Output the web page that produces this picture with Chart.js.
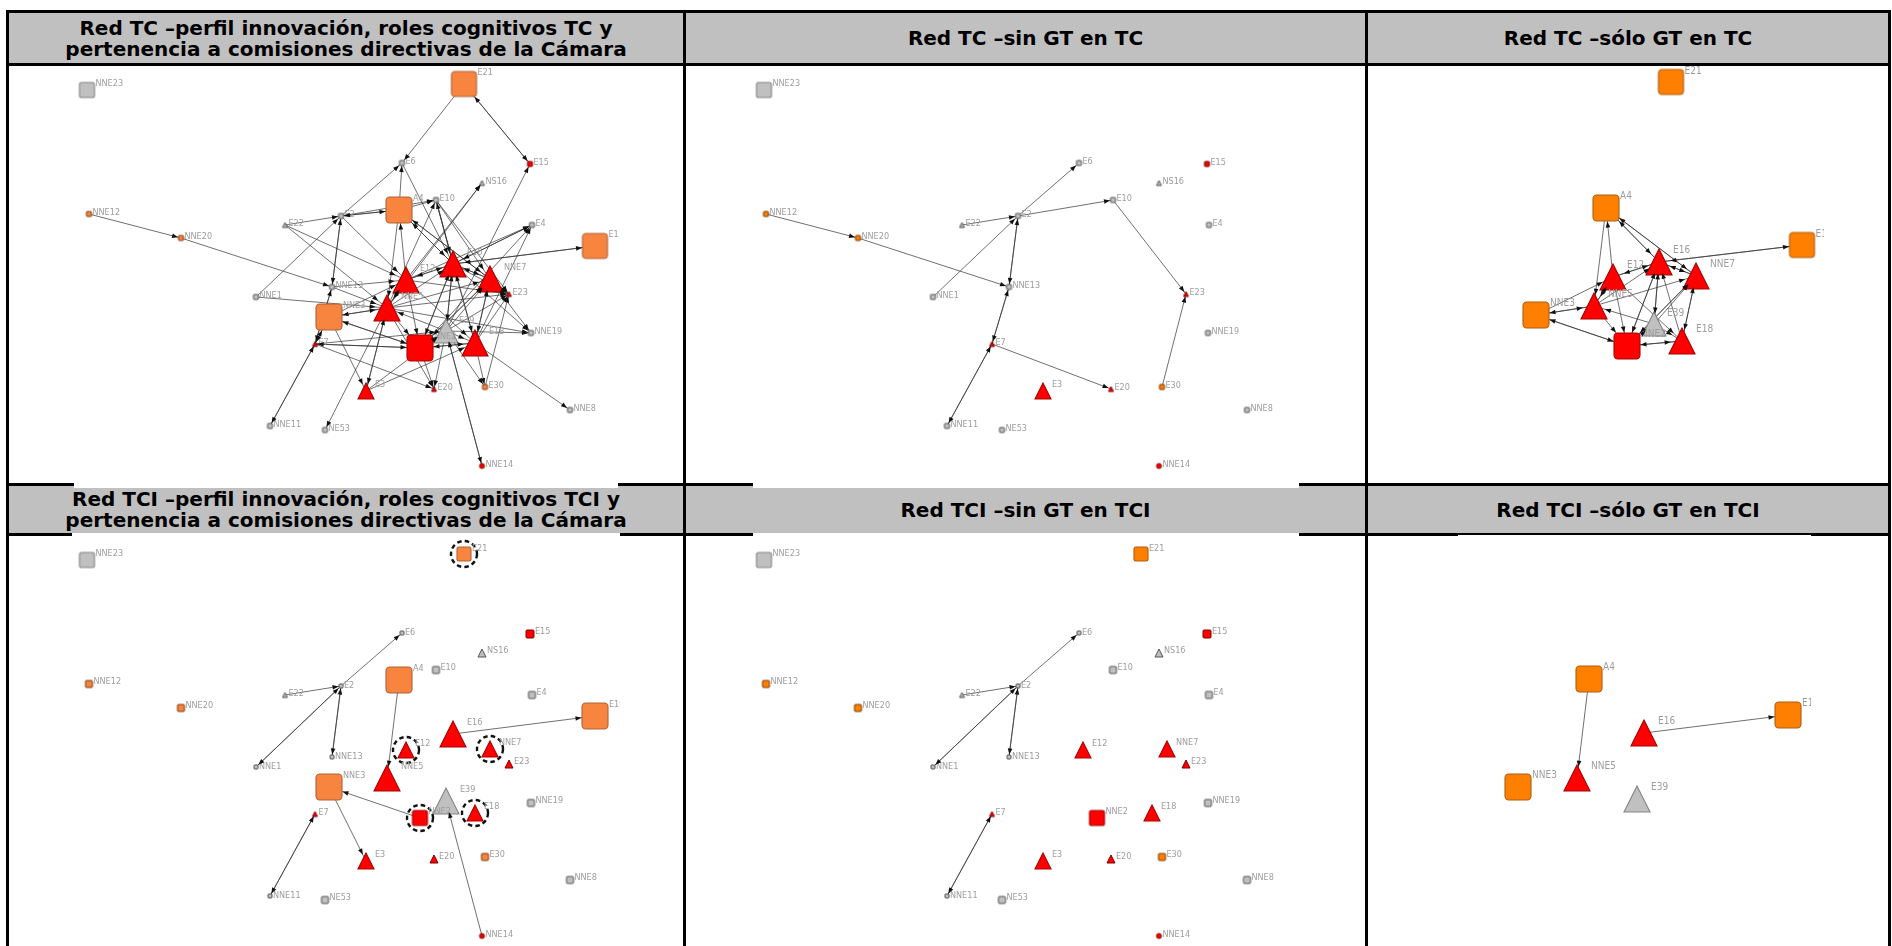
<!DOCTYPE html>
<html>
<head>
<meta charset="utf-8">
<script src="https://cdn.jsdelivr.net/npm/chart.js@4.4.0/dist/chart.umd.min.js"></script>
<style>
  body { margin: 0; width: 1892px; height: 946px; overflow: hidden; position: relative; background: #fff; }
  .bar { position: absolute; background: #000; z-index: 1; }
  .head { position: absolute; background: #c0c0c0; z-index: 0; display: flex; align-items: center; justify-content: center;
          box-sizing: border-box; padding-top: 1px;
          text-align: center; white-space: pre-line; font-family: "DejaVu Sans", Verdana, sans-serif; font-weight: bold;
          font-size: 20px; line-height: 21px; color: #000; }
  .pic { position: absolute; background: #fff; z-index: 2; overflow: hidden; }
  .pic canvas { display: block; }
</style>
</head>
<body>
<script>
// ---------------- data ----------------
const headerTitles = [
  'Red TC –perfil innovación, roles cognitivos TC y\npertenencia a comisiones directivas de la Cámara',
  'Red TC –sin GT en TC',
  'Red TC –sólo GT en TC',
  'Red TCI –perfil innovación, roles cognitivos TCI y\npertenencia a comisiones directivas de la Cámara',
  'Red TCI –sin GT en TCI',
  'Red TCI –sólo GT en TCI'
];

// full network layout (panel-relative px)
const nodeNames   = ['NNE23','E21','E6','E15','NS16','A4','E10','E2','NNE12','E22','E4','NNE20','E19','E16','E12','NNE7','NNE13','E23','NNE1','NNE5','NNE3','E39','E18','NNE19','E7','NNE2','E3','E20','E30','NNE8','NNE11','NE53','NNE14'];
const nodeX       = [78, 455, 393, 521, 473, 390, 427, 332, 80, 276, 523, 172, 586, 444, 397, 481, 323, 500, 247, 378, 320, 437, 466, 522, 306, 411, 357, 425, 476, 561, 261, 316, 473];
const nodeY       = [23, 17, 96, 97, 116, 143, 133, 149, 147, 158, 158, 171, 179, 197, 213, 212, 220, 227, 230, 241, 250, 264, 276, 266, 277, 281, 324, 322, 320, 343, 359, 363, 399];
const nodeShape   = ['sq','sq','sq','sq','tri','sq','sq','sq','sq','tri','sq','sq','sq','tri','tri','tri','sq','tri','sq','tri','sq','tri','tri','sq','tri','sq','tri','tri','sq','sq','sq','sq','dot'];
const nodeProfile = ['g','o','g','r','g','o','g','g','o','g','g','o','o','r','r','r','g','r','g','r','o','g','r','g','r','r','r','r','o','g','g','g','r'];
const sizeTC      = [15, 25, 5, 5, 5, 26, 5, 5, 5, 5, 5, 5, 25, 26, 26, 26, 5, 5, 5, 26, 26, 24, 26, 5, 5, 26, 16, 5, 5, 5, 5, 5, 5];
const sizeTCI     = [15, 14, 4, 8, 8, 26, 7, 4, 7, 5, 7, 7, 26, 26, 16, 16, 4, 8, 4, 26, 26, 26, 16, 7, 5, 15, 16, 8, 7, 7, 4, 7, 5];

// GT sub-network layouts
const gtTcNames  = ['E21','A4','E19','E16','NNE7','E12','NNE5','NNE3','E39','NNE2','E18'];
const gtTcX      = [303, 238, 434, 291, 328, 245, 226, 168, 286, 259, 314];
const gtTcY      = [15, 141, 178, 195, 209, 210, 239, 248, 257, 279, 274];
const gtTciNames = ['A4','E19','E16','NNE5','NNE3','E39'];
const gtTciX     = [221, 420, 276, 209, 150, 269];
const gtTciY     = [142, 178, 196, 241, 250, 262];

// directed ties [from, to]
const edgesTcRest = [
  ['NNE12','NNE20'], ['NNE20','NNE13'], ['E22','E2'], ['E2','E6'], ['E2','E10'], ['NNE1','E2'],
  ['E2','NNE13'], ['NNE13','E2'], ['NNE13','E7'], ['E7','NNE13'], ['E7','NNE11'], ['NNE11','E7'],
  ['E7','E20'], ['E10','E23'], ['E30','E23']
];
const edgesTcGt = [
  ['A4','E16'], ['E16','A4'], ['A4','NNE7'], ['NNE7','A4'], ['A4','NNE5'], ['E12','A4'],
  ['E16','E19'], ['E19','E16'], ['E12','E16'], ['E16','E12'], ['NNE7','E16'], ['E16','NNE7'],
  ['NNE3','E12'], ['NNE3','NNE5'], ['NNE5','NNE3'], ['NNE3','NNE2'], ['NNE2','NNE3'],
  ['NNE5','E12'], ['E12','NNE5'], ['NNE5','NNE2'], ['E12','NNE2'],
  ['NNE2','E16'], ['E16','NNE2'], ['NNE2','NNE7'], ['NNE7','NNE2'], ['NNE2','E18'], ['E18','NNE2'],
  ['E39','E16'], ['E16','E39'], ['E39','NNE5'], ['E39','E18'], ['E18','NNE7'], ['NNE7','E18'],
  ['E18','E16'], ['NNE5','E16'], ['NNE5','NNE7'], ['E12','E18'], ['E39','NNE7'], ['NNE2','E39']
];
const edgesTcCross = [
  ['E21','E6'], ['E21','E15'], ['E15','E21'], ['A4','E6'], ['E6','E16'], ['A4','E2'], ['E2','A4'],
  ['E12','NS16'], ['NNE5','NS16'], ['E10','E16'], ['E16','E10'], ['NNE5','E10'], ['E10','E18'], ['E10','NNE7'], ['A4','E10'],
  ['E39','E15'], ['E16','E4'], ['E4','E16'], ['E12','E4'], ['E18','E4'], ['NNE2','E4'],
  ['NNE13','E12'], ['NNE13','NNE5'], ['NNE1','NNE5'], ['E22','E12'], ['E22','NNE5'], ['E2','E12'],
  ['E7','NNE2'], ['NNE2','E7'], ['E7','E39'], ['E7','NNE3'], ['NNE3','E7'],
  ['NNE5','E3'], ['E3','NNE5'], ['NNE3','E3'], ['E3','E39'], ['E3','E18'],
  ['NNE2','E20'], ['E39','E20'], ['NNE5','E20'], ['E39','E30'], ['E18','E30'],
  ['E16','NNE19'], ['E39','NNE19'], ['NNE7','NNE19'], ['NNE5','NNE19'],
  ['E16','E23'], ['NNE7','E23'], ['NNE5','E23'], ['E12','E23'], ['E18','E23'], ['E39','E23'],
  ['E18','NNE8'], ['NNE5','NE53'], ['E39','NNE14'], ['NNE14','E39']
];
const edgesTciRest  = [['E22','E2'], ['E2','E6'], ['NNE1','E2'], ['E2','NNE1'], ['E2','NNE13'], ['NNE13','E2'], ['E7','NNE11'], ['NNE11','E7']];
const edgesTciGt    = [['A4','NNE5'], ['E16','E19']];
const edgesTciCross = [['NNE2','NNE3'], ['NNE3','E3'], ['NNE14','E39']];

// nodes that left the GT between TC and TCI (dashed rings)
const highlightTci = ['E21','E12','NNE7','NNE2','E18'];

// ---------------- table frame ----------------
const colEdges = [6, 683, 1365, 1888];
const rowEdges = [10, 63, 483, 533];
const BW = 3;

function addDiv(cls, x, y, w, h, text) {
  const d = document.createElement('div');
  d.className = cls;
  Object.assign(d.style, { left: x + 'px', top: y + 'px', width: w + 'px', height: h + 'px' });
  if (text) d.textContent = text;
  document.body.appendChild(d);
  return d;
}

rowEdges.forEach(y => addDiv('bar', colEdges[0], y, colEdges[3] + BW - colEdges[0], BW));
colEdges.forEach(x => addDiv('bar', x, rowEdges[0], BW, 946 - rowEdges[0]));
[[rowEdges[0], rowEdges[1]], [rowEdges[2], rowEdges[3]]].forEach(([y0, y1], r) => {
  for (let c = 0; c < 3; c++) {
    addDiv('head', colEdges[c] + BW, y0 + BW, colEdges[c + 1] - colEdges[c] - BW, y1 - y0 - BW, headerTitles[r * 3 + c]);
  }
});

// ---------------- markers ----------------
const palette = {
  g: { fill: '#c0c0c0', stroke: '#858585', small: '#555555' },
  r: { fill: '#ff0000', stroke: '#a80000', small: '#7a0000' }
};
function colours(profile, orange) {
  if (profile === 'o') return orange;
  return palette[profile];
}

function marker(shape, size, col) {
  const w = Math.ceil(size + 4);
  const c = document.createElement('canvas');
  c.width = w; c.height = w;
  const g = c.getContext('2d');
  const m = w / 2, h = size / 2;
  g.beginPath();
  if (shape === 'sq') {
    const r = Math.max(0.8, size * 0.14);
    g.moveTo(m - h + r, m - h);
    g.arcTo(m + h, m - h, m + h, m + h, r);
    g.arcTo(m + h, m + h, m - h, m + h, r);
    g.arcTo(m - h, m + h, m - h, m - h, r);
    g.arcTo(m - h, m - h, m + h, m - h, r);
    g.closePath();
  } else if (shape === 'tri') {
    g.moveTo(m, m - h);
    g.lineTo(m + h, m + h);
    g.lineTo(m - h, m + h);
    g.closePath();
  } else {
    g.arc(m, m, h, 0, Math.PI * 2);
  }
  g.fillStyle = col.fill;
  g.fill();
  g.lineWidth = size > 10 ? 1.1 : 1;
  g.strokeStyle = size > 10 ? col.stroke : col.small;
  g.stroke();
  return c;
}

function ring(r) {
  const w = Math.ceil(2 * r + 6);
  const c = document.createElement('canvas');
  c.width = w; c.height = w;
  const g = c.getContext('2d');
  g.setLineDash([4.5, 3.2]);
  g.lineWidth = 2.4;
  g.strokeStyle = '#111';
  g.beginPath();
  g.arc(w / 2, w / 2, r, 0, Math.PI * 2);
  g.stroke();
  return c;
}

// ---------------- plugins ----------------
const nodeLabels = {
  id: 'nodeLabels',
  afterDatasetsDraw(chart) {
    const ds = chart.data.datasets[0];
    const meta = chart.getDatasetMeta(0);
    const ctx = chart.ctx;
    ctx.save();
    ctx.font = ds.labelFont;
    ctx.fillStyle = '#9d9d9d';
    ctx.textBaseline = 'middle';
    meta.data.forEach((el, i) => {
      const s = ds.nodeSizes[i];
      ctx.fillText(ds.nodeNames[i], el.x + s / 2 + 1, el.y - s / 2 + 1.5);
    });
    ctx.restore();
  }
};

const arrowHeads = {
  id: 'arrowHeads',
  afterDatasetsDraw(chart) {
    const ds = chart.data.datasets[0];
    const pts = chart.getDatasetMeta(0).data;
    const ctx = chart.ctx;
    ctx.save();
    ctx.fillStyle = '#111';
    ds.edgePairs.forEach(([a, b]) => {
      const p = pts[a], q = pts[b];
      const dx = q.x - p.x, dy = q.y - p.y, len = Math.hypot(dx, dy) || 1;
      const ux = dx / len, uy = dy / len;
      const s = ds.nodeSizes[b], sh = ds.nodeShapes[b];
      let d = s / 2;
      if (sh === 'sq') d = (s / 2) / Math.max(Math.abs(ux), Math.abs(uy));
      else if (sh === 'tri') d = s * 0.42;
      const tx = q.x - ux * (d + 0.5), ty = q.y - uy * (d + 0.5);
      const L = 6, W = 2.3;
      ctx.beginPath();
      ctx.moveTo(tx, ty);
      ctx.lineTo(tx - ux * L - uy * W, ty - uy * L + ux * W);
      ctx.lineTo(tx - ux * L + uy * W, ty - uy * L - ux * W);
      ctx.closePath();
      ctx.fill();
    });
    ctx.restore();
  }
};

// ---------------- panels ----------------
const orangeSoft = { fill: '#f7853f', stroke: '#b0623a', small: '#7a3a10' };
const orangePure = { fill: '#ff8000', stroke: '#b05c10', small: '#7a3a00' };
const mainLayout = n => [nodeX[nodeNames.indexOf(n)], nodeY[nodeNames.indexOf(n)]];
const listLayout = (names, xs, ys) => n => [xs[names.indexOf(n)], ys[names.indexOf(n)]];

const panels = [
  { box: [74, 66, 618, 488], cell: [9, 67], names: nodeNames, layout: mainLayout, sizes: sizeTC, orange: orangeSoft,
    edges: edgesTcRest.concat(edgesTcGt, edgesTcCross), font: '9px' },
  { box: [753, 66, 1299, 488], cell: [686, 67], names: nodeNames.filter(n => !gtTcNames.includes(n)), layout: mainLayout, sizes: sizeTC, orange: orangePure,
    edges: edgesTcRest, font: '9px' },
  { box: [1440, 66, 1824, 480], cell: [1368, 67], names: gtTcNames, layout: listLayout(gtTcNames, gtTcX, gtTcY), sizes: sizeTC, orange: orangePure,
    edges: edgesTcGt, font: '10px' },
  { box: [72, 533, 620, 946], cell: [9, 537], names: nodeNames, layout: mainLayout, sizes: sizeTCI, orange: orangeSoft,
    edges: edgesTciRest.concat(edgesTciGt, edgesTciCross), font: '9px', rings: highlightTci },
  { box: [753, 533, 1299, 946], cell: [686, 537], names: nodeNames.filter(n => !gtTciNames.includes(n)), layout: mainLayout, sizes: sizeTCI, orange: orangePure,
    edges: edgesTciRest, font: '9px' },
  { box: [1458, 535, 1811, 946], cell: [1368, 537], names: gtTciNames, layout: listLayout(gtTciNames, gtTciX, gtTciY), sizes: sizeTCI, orange: orangePure,
    edges: edgesTciGt, font: '10px' }
];

panels.forEach(p => {
  const [x0, y0, x1, y1] = p.box;
  const wrap = addDiv('pic', x0, y0, x1 - x0, y1 - y0);
  const cv = document.createElement('canvas');
  cv.width = x1 - x0; cv.height = y1 - y0;
  wrap.appendChild(cv);

  const gi = p.names.map(n => nodeNames.indexOf(n));
  const pos = p.names.map(p.layout);
  const sizes = gi.map(i => p.sizes[i]);
  const shapes = gi.map(i => nodeShape[i]);
  const styles = gi.map((i, k) => marker(nodeShape[i], sizes[k], colours(nodeProfile[i], p.orange)));
  const pairs = p.edges.map(([a, b]) => [p.names.indexOf(a), p.names.indexOf(b)]).filter(([a, b]) => a >= 0 && b >= 0);
  const edgeData = [];
  pairs.forEach(([a, b]) => {
    edgeData.push({ x: pos[a][0], y: pos[a][1] }, { x: pos[b][0], y: pos[b][1] }, { x: null, y: null });
  });

  const datasets = [{
    type: 'scatter',
    data: pos.map(([x, y]) => ({ x, y })),
    pointStyle: styles,
    pointRadius: sizes.map(s => s / 2),
    order: 1,
    nodeNames: p.names, nodeSizes: sizes, nodeShapes: shapes, edgePairs: pairs,
    labelFont: p.font + ' "Liberation Sans Narrow", "DejaVu Sans Condensed", "Arial Narrow", sans-serif'
  }, {
    type: 'line',
    data: edgeData,
    borderColor: 'rgba(50,50,50,0.88)',
    borderWidth: 0.8,
    pointRadius: 0,
    tension: 0,
    spanGaps: false,
    fill: false,
    order: 2
  }];
  if (p.rings) {
    const ringStyle = ring(13);
    datasets.push({
      type: 'scatter',
      data: p.rings.map(n => ({ x: pos[p.names.indexOf(n)][0], y: pos[p.names.indexOf(n)][1] })),
      pointStyle: ringStyle,
      pointRadius: 13,
      order: 0
    });
  }

  new Chart(cv, {
    type: 'scatter',
    data: { datasets },
    options: {
      responsive: false,
      animation: false,
      events: [],
      devicePixelRatio: 1,
      layout: { padding: 0, autoPadding: false },
      plugins: { legend: { display: false }, tooltip: { enabled: false } },
      scales: {
        x: { type: 'linear', display: false, min: x0 - p.cell[0], max: x1 - p.cell[0] },
        y: { type: 'linear', display: false, reverse: true, min: y0 - p.cell[1], max: y1 - p.cell[1] }
      }
    },
    plugins: [nodeLabels, arrowHeads]
  });
});
</script>
</body>
</html>
